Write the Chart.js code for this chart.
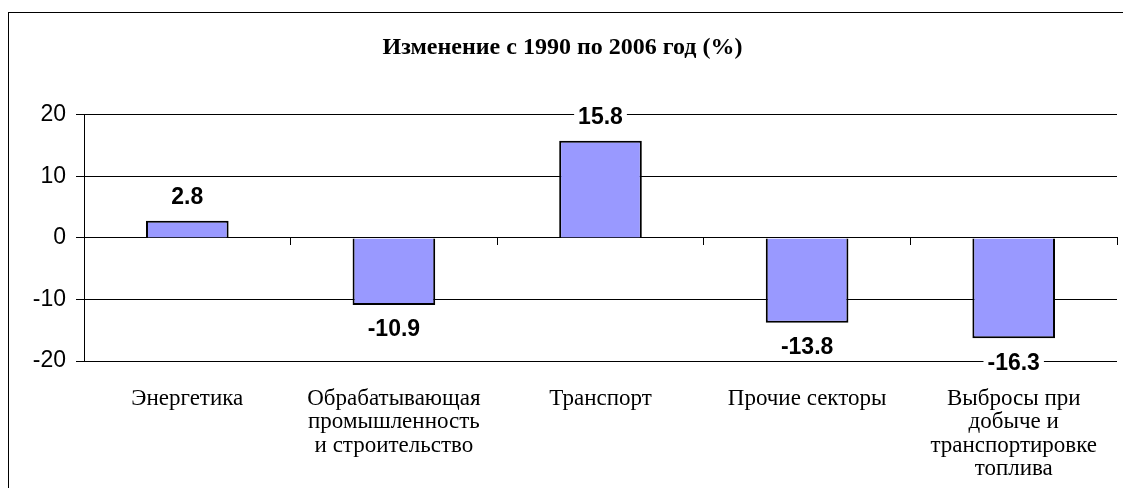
<!DOCTYPE html>
<html>
<head>
<meta charset="utf-8">
<script src="https://cdn.jsdelivr.net/npm/chart.js@4/dist/chart.umd.min.js"></script>
<style>
  html, body { margin: 0; padding: 0; background: #fff; overflow: hidden; }
  #frame { position: absolute; left: 8px; top: 12px; width: 1130px; height: 490px; border: 1px solid #000; }
  #wrap { position: absolute; left: 0; top: 0; width: 1123px; height: 488px; }
</style>
</head>
<body>
<div id="frame"></div>
<div id="wrap"><canvas id="myChart"></canvas></div>
<script>
const chartTitle = 'Изменение с 1990 по 2006 год (%)';
const categories = [
  ['Энергетика'],
  ['Обрабатывающая', 'промышленность', 'и строительство'],
  ['Транспорт'],
  ['Прочие секторы'],
  ['Выбросы при', 'добыче и', 'транспортировке', 'топлива']
];
const changes = [2.8, -10.9, 15.8, -13.8, -16.3];
const yTicks = [-20, -10, 0, 10, 20];

// value labels with white box behind, like the Excel original
const valueLabels = {
  id: 'valueLabels',
  afterDatasetsDraw(chart) {
    const ctx = chart.ctx;
    const meta = chart.getDatasetMeta(0);
    ctx.save();
    ctx.font = 'bold 23px "Liberation Sans", Arial, sans-serif';
    ctx.textAlign = 'center';
    ctx.textBaseline = 'middle';
    meta.data.forEach((bar, i) => {
      const v = changes[i];
      const txt = v.toFixed(1);
      const y = v >= 0 ? bar.y - 24 : bar.y + 24;
      const w = ctx.measureText(txt).width;
      ctx.fillStyle = '#fff';
      ctx.fillRect(bar.x - w / 2 - 4, y - 12, w + 8, 24);
      ctx.fillStyle = '#000';
      ctx.fillText(txt, bar.x, y + 1);
    });
    ctx.restore();
  }
};

const ctx = document.getElementById('myChart').getContext('2d');
const myChart = new Chart(ctx, {
  type: 'bar',
  data: {
    labels: categories,
    datasets: [{
      data: changes,
      backgroundColor: '#9999FF',
      borderColor: '#000',
      borderWidth: 2,
      barPercentage: 0.4,
      categoryPercentage: 1
    }]
  },
  plugins: [valueLabels],
  options: {
    responsive: true,
    maintainAspectRatio: false,
    animation: false,
    layout: { padding: { top: 28, left: 8, right: 6, bottom: 0 } },
    plugins: {
      legend: { display: false },
      tooltip: { enabled: false },
      title: {
        display: true,
        text: chartTitle,
        color: '#000',
        font: { family: '"Liberation Serif", "Times New Roman", serif', size: 24, weight: 'bold' },
        padding: { top: 5, bottom: 53 }
      }
    },
    scales: {
      x: {
        afterFit(scale) { scale.height = 127; },
        grid: { display: false },
        border: { display: false },
        ticks: {
          color: '#000',
          padding: 18,
          maxRotation: 0,
          autoSkip: false,
          font: { family: '"Liberation Serif", "Times New Roman", serif', size: 23, lineHeight: '23.5px' }
        }
      },
      x0: {
        position: { y: 0 },
        offset: true,
        afterFit(scale) { scale.height = 0; },
        grid: { offset: true, drawOnChartArea: false, tickLength: 7, color: '#000' },
        border: { color: '#000' },
        ticks: { display: false }
      },
      y: {
        min: -20,
        max: 20,
        afterFit(scale) { scale.width = 76; },
        afterBuildTicks(scale) { scale.ticks = yTicks.map(v => ({ value: v })); },
        grid: { color: '#000', tickLength: 8, lineWidth: 1 },
        border: { color: '#000' },
        ticks: {
          color: '#000',
          padding: 10,
          font: { family: '"Liberation Sans", Arial, sans-serif', size: 23 }
        }
      }
    }
  }
});
</script>
</body>
</html>
